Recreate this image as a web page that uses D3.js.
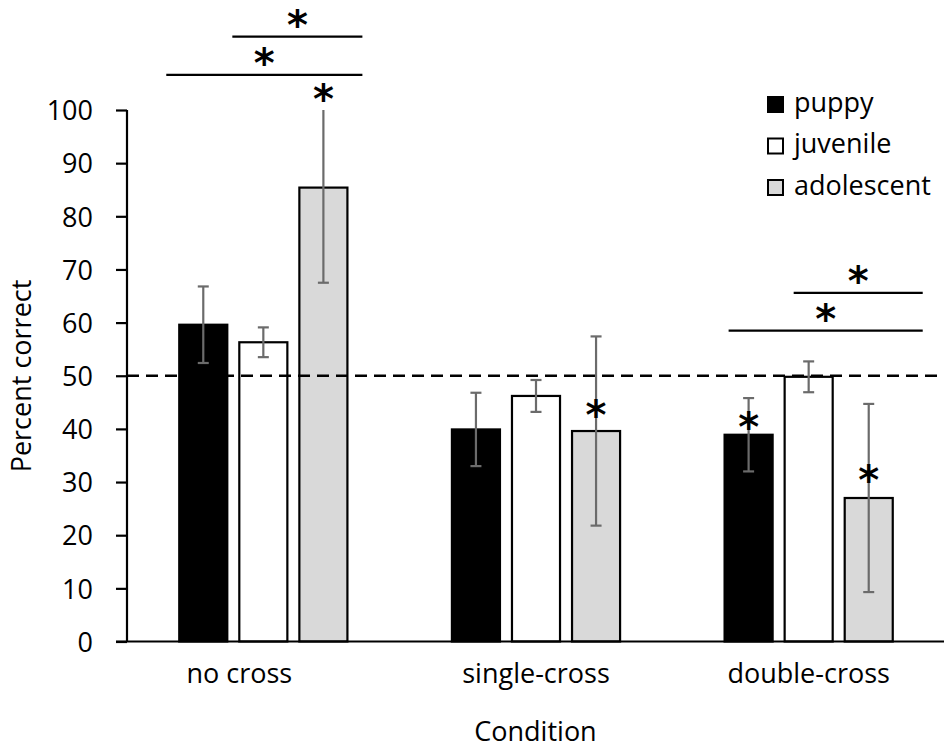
<!DOCTYPE html>
<html>
<head>
<meta charset="utf-8">
<script src="https://cdn.jsdelivr.net/npm/d3@7"></script>
<style>
  body { margin: 0; background: #fff; }
  svg { display: block; font-family: "Open Sans", sans-serif; }
</style>
</head>
<body>
<svg id="chart" width="944" height="748"></svg>
<script>
// ---- data ----
const categories = ["no cross", "single-cross", "double-cross"];
const groups = ["puppy", "juvenile", "adolescent"];

const puppyMean = [59.6, 39.9, 38.9];
const puppyErr = [7.2, 6.9, 6.9];
const juvenileMean = [56.3, 46.2, 49.8];
const juvenileErr = [2.8, 3.0, 2.9];
const adolescentMean = [85.4, 39.6, 27.0];
const adolescentErr = [17.9, 17.8, 17.7];

const yTicks = [0, 10, 20, 30, 40, 50, 60, 70, 80, 90, 100];
const chanceLevel = 50;

// significance marks over single bars: category, group, height of the mark (percent)
const barStars = [
  ["no cross", "adolescent", 103.4],
  ["single-cross", "adolescent", 43.9],
  ["double-cross", "puppy", 41.7],
  ["double-cross", "adolescent", 31.7]
];

// pairwise comparisons: category, first group, second group, height of the line (percent)
const brackets = [
  ["no cross", "juvenile", "adolescent", 113.8],
  ["no cross", "puppy", "adolescent", 106.6],
  ["double-cross", "juvenile", "adolescent", 65.6],
  ["double-cross", "puppy", "adolescent", 58.5]
];

// ---- layout ----
const svg = d3.select("#chart");
const fills = { puppy: "#000000", juvenile: "#ffffff", adolescent: "#d9d9d9" };
const errColor = "#6b6b6b";

const x = d3.scaleBand().domain(categories).range([127, 945]);
const xg = d3.scaleBand().domain(groups)
  .range([0, x.bandwidth()]).paddingInner(0.2).paddingOuter(0.87);
const y = d3.scaleLinear().domain([0, 100]).range([641.5, 110]);

const means = { puppy: puppyMean, juvenile: juvenileMean, adolescent: adolescentMean };
const errs = { puppy: puppyErr, juvenile: juvenileErr, adolescent: adolescentErr };

const rows = [];
categories.forEach((c, i) => groups.forEach(g => {
  rows.push({ cat: c, group: g, value: means[g][i], err: errs[g][i] });
}));
const barCenter = (c, g) => x(c) + xg(g) + xg.bandwidth() / 2;

// bars
svg.append("g").selectAll("rect").data(rows).join("rect")
  .attr("x", d => x(d.cat) + xg(d.group))
  .attr("y", d => y(d.value))
  .attr("width", xg.bandwidth())
  .attr("height", d => y(0) - y(d.value))
  .attr("fill", d => fills[d.group])
  .attr("stroke", "#000")
  .attr("stroke-width", 2.2);

// chance level
svg.append("line")
  .attr("x1", 127).attr("x2", 944)
  .attr("y1", y(chanceLevel)).attr("y2", y(chanceLevel))
  .attr("stroke", "#000").attr("stroke-width", 2.3)
  .attr("stroke-dasharray", "12,7");

// error bars (clipped to the top of the value axis)
const eb = svg.append("g").attr("stroke", errColor).attr("stroke-width", 2.2);
const capHalf = 5.5;
rows.forEach(d => {
  const cx = barCenter(d.cat, d.group);
  const hi = Math.min(d.value + d.err, 100);
  const lo = Math.max(d.value - d.err, 0);
  eb.append("line").attr("x1", cx).attr("x2", cx).attr("y1", y(hi)).attr("y2", y(lo));
  if (d.value + d.err <= 100) {
    eb.append("line").attr("x1", cx - capHalf).attr("x2", cx + capHalf).attr("y1", y(hi)).attr("y2", y(hi));
  }
  eb.append("line").attr("x1", cx - capHalf).attr("x2", cx + capHalf).attr("y1", y(lo)).attr("y2", y(lo));
});

// axes
const yAxis = svg.append("g").attr("transform", "translate(127,0)")
  .call(d3.axisLeft(y).tickValues(yTicks).tickSize(11).tickPadding(23).tickSizeOuter(0));
yAxis.select(".domain").remove();
yAxis.selectAll(".tick line").attr("stroke", "#000").attr("stroke-width", 2.2);
yAxis.selectAll(".tick text").attr("font-size", 27).attr("fill", "#000")
  .attr("font-family", "'Open Sans', sans-serif").attr("dy", "0.36em");

svg.append("line").attr("x1", 127).attr("x2", 127).attr("y1", y(100)).attr("y2", y(0))
  .attr("stroke", "#000").attr("stroke-width", 2.2);
svg.append("line").attr("x1", 116).attr("x2", 944).attr("y1", y(0)).attr("y2", y(0))
  .attr("stroke", "#000").attr("stroke-width", 2.2);

const xAxis = svg.append("g").attr("transform", `translate(0,${y(0)})`)
  .call(d3.axisBottom(x).tickSize(0).tickPadding(22));
xAxis.select(".domain").remove();
xAxis.selectAll(".tick text").attr("font-size", 27).attr("fill", "#000")
  .attr("font-family", "'Open Sans', sans-serif");
// the first category label sits toward the left of its group
xAxis.selectAll(".tick text").filter(d => d === "no cross").attr("dx", -24);

// axis titles
svg.append("text").attr("transform", "translate(31,376) rotate(-90)")
  .attr("text-anchor", "middle").attr("font-size", 27).text("Percent correct");
svg.append("text").attr("x", (127 + 944) / 2).attr("y", 741)
  .attr("text-anchor", "middle").attr("font-size", 27).text("Condition");

// significance asterisks, centred on their glyph ink
const starFont = "bold 40px 'DejaVu Sans'";
const ctx = document.createElement("canvas").getContext("2d");
ctx.font = starFont;
const m = ctx.measureText("*");
const starLift = (m.actualBoundingBoxAscent - m.actualBoundingBoxDescent) / 2;
function star(cx, cy) {
  svg.append("text").attr("x", cx).attr("y", cy + starLift)
    .attr("text-anchor", "middle")
    .attr("font-family", "'DejaVu Sans'").attr("font-weight", "bold").attr("font-size", 40)
    .attr("fill", "#000").text("*");
}

barStars.forEach(([c, g, v]) => star(barCenter(c, g), y(v)));

// how far each comparison line reaches past the centres of its end bars
const reach = [[31, 39], [37, 39], [15, 54], [20, 54]];
brackets.forEach(([c, g1, g2, v], i) => {
  const x1 = barCenter(c, g1) - reach[i][0];
  const x2 = barCenter(c, g2) + reach[i][1];
  svg.append("line").attr("x1", x1).attr("x2", x2).attr("y1", y(v)).attr("y2", y(v))
    .attr("stroke", "#000").attr("stroke-width", 2.3);
  star((x1 + x2) / 2, y(v) - 19);
});

// legend
const legend = svg.append("g");
groups.forEach((g, i) => {
  const top = 97 + i * 41.5;
  legend.append("rect").attr("x", 768).attr("y", top).attr("width", 15).attr("height", 15)
    .attr("fill", fills[g]).attr("stroke", "#000").attr("stroke-width", 2);
  legend.append("text").attr("x", 794).attr("y", top + 14.5)
    .attr("font-size", 27).attr("fill", "#000").text(g);
});
</script>
</body>
</html>
